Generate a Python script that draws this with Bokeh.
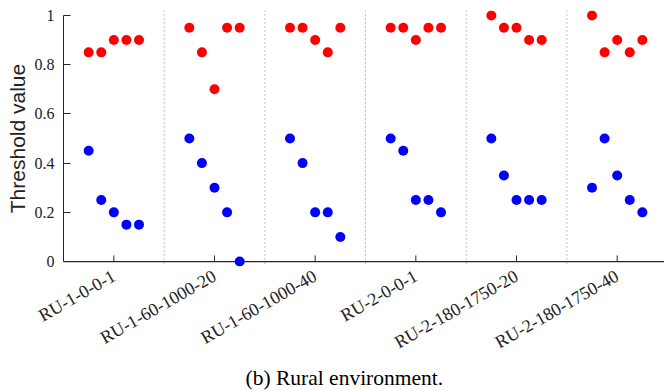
import numpy as np
from bokeh.plotting import figure
from bokeh.models import Range1d, FixedTicker, Span, Title, CustomJSTickFormatter
from bokeh.embed import file_html
from bokeh.resources import INLINE

categories = ["RU-1-0-0-1", "RU-1-60-1000-20", "RU-1-60-1000-40",
              "RU-2-0-0-1", "RU-2-180-1750-20", "RU-2-180-1750-40"]
offsets = [-0.25, -0.125, 0.0, 0.125, 0.25]
red_values = [
    [0.85, 0.85, 0.90, 0.90, 0.90],
    [0.95, 0.85, 0.70, 0.95, 0.95],
    [0.95, 0.95, 0.90, 0.85, 0.95],
    [0.95, 0.95, 0.90, 0.95, 0.95],
    [1.00, 0.95, 0.95, 0.90, 0.90],
    [1.00, 0.85, 0.90, 0.85, 0.90],
]
blue_values = [
    [0.45, 0.25, 0.20, 0.15, 0.15],
    [0.50, 0.40, 0.30, 0.20, 0.00],
    [0.50, 0.40, 0.20, 0.20, 0.10],
    [0.50, 0.45, 0.25, 0.25, 0.20],
    [0.50, 0.35, 0.25, 0.25, 0.25],
    [0.30, 0.50, 0.35, 0.25, 0.20],
]
y_ticks = [0, 0.2, 0.4, 0.6, 0.8, 1.0]
y_tick_labels = ["0", "0.2", "0.4", "0.6", "0.8", "1"]
caption = "(b) Rural environment."
y_label = "Threshold value"

SERIF = "Liberation Serif"
SANS = "Liberation Sans"
AXC = "#262626"

xs, yr, yb = [], [], []
for i in range(len(categories)):
    for j, o in enumerate(offsets):
        xs.append(i + 1 + o)
        yr.append(red_values[i][j])
        yb.append(blue_values[i][j])
centers = list(range(1, len(categories) + 1))

p = figure(width=664, height=391, output_backend="svg", toolbar_location=None,
           x_range=Range1d(0.5, 6.47), y_range=Range1d(-0.02, 1.02),
           min_border_left=63, min_border_right=0, min_border_top=10,
           min_border_bottom=125)
p.outline_line_color = None
p.grid.visible = False

for k in range(1, len(categories)):
    p.add_layout(Span(location=k + 0.5, dimension="height", line_color="#8a8a8a",
                      line_dash="1 3", line_width=1))
p.add_layout(Span(location=0, dimension="width", line_color=AXC, line_width=1.2))
p.segment(x0=centers, y0=[0] * len(centers), x1=centers,
          y1=[0.025] * len(centers), line_color=AXC, line_width=1)

p.scatter(xs, yb, size=10, color="#0000ff", line_color=None)
p.scatter(xs, yr, size=10, color="#ff0000", line_color=None)

ax = p.xaxis[0]
ax.ticker = FixedTicker(ticks=centers)
ax.formatter = CustomJSTickFormatter(args=dict(labels=categories),
                                     code="return labels[Math.round(tick) - 1];")
ax.major_label_orientation = 0.52
ax.major_tick_line_color = None
ax.minor_tick_line_color = None
ax.axis_line_color = None
ax.major_label_text_font = SERIF
ax.major_label_text_font_size = "18px"
ax.major_label_text_color = "#222222"
ax.major_label_standoff = 2

ay = p.yaxis[0]
ay.ticker = FixedTicker(ticks=y_ticks)
ay.major_label_overrides = {t: l for t, l in zip(y_ticks, y_tick_labels)}
ay.bounds = (0, 1)
ay.major_tick_in = 7
ay.major_tick_out = 0
ay.minor_tick_line_color = None
ay.axis_line_color = AXC
ay.major_tick_line_color = AXC
ay.major_label_text_font = SERIF
ay.major_label_text_font_size = "16px"
ay.major_label_text_color = "#222222"
ay.major_label_standoff = 9
ay.axis_label = y_label
ay.axis_label_text_font = SANS
ay.axis_label_text_font_style = "normal"
ay.axis_label_text_font_size = "21px"
ay.axis_label_text_color = "#222222"
ay.axis_label_standoff = 3

p.add_layout(Title(text=caption, align="left", offset=182, standoff=0,
                   text_font=SERIF, text_font_size="21.5px",
                   text_font_style="normal", text_color="#000000"), "below")

open("out.html", "w").write(file_html(p, INLINE))
